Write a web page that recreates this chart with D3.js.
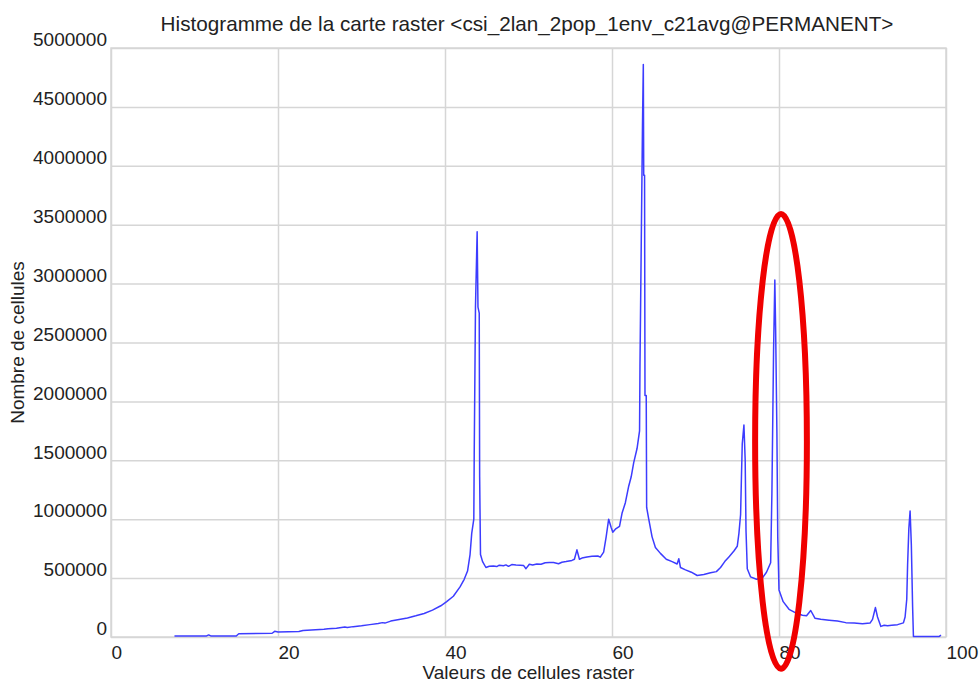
<!DOCTYPE html>
<html>
<head>
<meta charset="utf-8">
<script src="https://cdn.jsdelivr.net/npm/d3@7"></script>
<style>
  body { margin: 0; background: #fff; }
  svg { display: block; font-family: "Liberation Sans", Arial, sans-serif; }
  .grid line { stroke: #d6d6d6; stroke-width: 1.5; }
  .grid path { display: none; }
  .tick text { fill: #222; font-size: 19px; }
</style>
</head>
<body>
<div id="chart"></div>
<script>
// raster cell values (x) and number of cells (y)
var cellValues = [
  7.6, 11.4, 11.7, 12.0, 15.0, 15.3, 19.3, 19.6, 20.0, 22.5, 23.0, 25.5, 26.0, 27.0, 28.0, 28.3,
  29.0, 30.0, 31.0, 32.0, 32.5, 32.8, 33.5, 34.5, 35.5, 36.5, 37.5, 38.5, 39.5, 40.2, 41.0, 41.8,
  42.3, 42.7, 43.0, 43.2, 43.45, 43.5, 43.65, 43.85, 43.95, 44.1, 44.15, 44.25, 44.5, 44.9, 45.3,
  45.8, 46.2, 46.5, 47.0, 47.3, 47.6, 48.0, 48.5, 49.0, 49.4, 49.7, 50.1, 50.5, 51.0, 51.5, 52.0,
  52.5, 53.0, 53.6, 54.0, 54.5, 55.2, 55.5, 55.8, 56.1, 56.4, 57.0, 57.6, 58.3, 58.6, 59.0, 59.3,
  59.6, 59.9, 60.1, 60.4, 60.9, 61.2, 61.6, 62.0, 62.3, 62.6, 63.0, 63.3, 63.35, 63.5, 63.65, 63.75,
  63.8, 63.9, 63.95, 64.1, 64.15, 64.4, 64.8, 65.2, 65.8, 66.5, 67.2, 67.8, 68.0, 68.2, 68.8, 69.5,
  70.2, 71.0, 71.8, 72.5, 73.0, 73.5, 74.0, 74.6, 75.0, 75.2, 75.4, 75.5, 75.6, 75.8, 75.95, 76.05,
  76.2, 76.6, 77.3, 78.0, 78.5, 79.0, 79.15, 79.35, 79.5, 79.6, 79.75, 79.85, 80.0, 80.5, 81.2, 82.0,
  82.8, 83.3, 83.8, 84.3, 85.0, 86.0, 87.0, 88.0, 89.0, 90.0, 90.9, 91.2, 91.55, 91.8, 92.2, 92.6,
  93.0, 93.5, 94.2, 94.9, 95.1, 95.3, 95.4, 95.55, 95.7, 95.85, 96.0, 96.1, 99.2, 99.4
];
var cellCounts = [
  8000, 8000, 18000, 8000, 9000, 28000, 32000, 48000, 42000, 46000, 55000, 65000, 70000, 75000, 84000, 80000,
  88000, 95000, 105000, 115000, 122000, 118000, 135000, 148000, 162000, 180000, 200000, 228000, 265000, 300000, 346000, 425000,
  490000, 560000, 700000, 880000, 1000000, 1550000, 2800000, 3440000, 2800000, 2750000, 1360000, 700000, 640000, 590000, 600000,
  602000, 598000, 610000, 605000, 612000, 600000, 615000, 612000, 610000, 608000, 580000, 618000, 612000, 620000, 618000, 630000,
  632000, 632000, 622000, 635000, 640000, 650000, 660000, 740000, 660000, 670000, 680000, 685000, 688000, 678000, 720000, 850000,
  1000000, 930000, 890000, 915000, 940000, 1050000, 1140000, 1280000, 1360000, 1480000, 1600000, 1750000, 2300000, 3320000, 4340000, 4860000,
  3920000, 3920000, 2050000, 2050000, 1100000, 1000000, 850000, 760000, 710000, 660000, 640000, 620000, 665000, 590000, 570000, 550000,
  522000, 530000, 545000, 555000, 590000, 640000, 680000, 730000, 770000, 880000, 1040000, 1350000, 1640000, 1800000, 1500000, 900000,
  580000, 510000, 490000, 500000, 550000, 630000, 1220000, 2430000, 3030000, 2600000, 1730000, 850000, 400000, 300000, 235000, 205000,
  185000, 180000, 225000, 160000, 150000, 142000, 135000, 122000, 118000, 112000, 118000, 150000, 250000, 170000, 90000, 100000,
  95000, 100000, 105000, 120000, 170000, 320000, 610000, 920000, 1070000, 780000, 260000, 5000, 5000, 15000
];

var xTicks = [0, 20, 40, 60, 80, 100];
var yTicks = [0, 500000, 1000000, 1500000, 2000000, 2500000, 3000000, 3500000, 4000000, 4500000, 5000000];

var titleText = "Histogramme de la carte raster <csi_2lan_2pop_1env_c21avg@PERMANENT>";
var xLabel = "Valeurs de cellules raster";
var yLabel = "Nombre de cellules";

// highlighted zone (red ellipse), in data units
var markCenter = [80.24, 1660000];
var markRadius = [3.1, 1930000];

var margin = {top: 48, right: 33, bottom: 47, left: 111},
    W = 979, H = 684,
    width = W - margin.left - margin.right,
    height = H - margin.top - margin.bottom;

var x = d3.scaleLinear().domain([0, 100]).range([0, width]);
var y = d3.scaleLinear().domain([0, 5000000]).range([height, 0]);

var svg = d3.select("#chart").append("svg")
    .attr("width", W)
    .attr("height", H);

var g = svg.append("g")
    .attr("transform", "translate(" + margin.left + "," + margin.top + ")");

// vertical grid + x labels
var xAxis = g.append("g")
    .attr("class", "grid")
    .attr("transform", "translate(0," + height + ")")
    .call(d3.axisBottom(x).tickValues(xTicks).tickSize(-height).tickPadding(0).tickFormat(d3.format("d")));
xAxis.selectAll("text")
    .attr("text-anchor", "start")
    .attr("x", 0)
    .attr("y", 22)
    .attr("dy", 0);

// horizontal grid + y labels
var yAxis = g.append("g")
    .attr("class", "grid")
    .call(d3.axisLeft(y).tickValues(yTicks).tickSize(-width).tickPadding(0).tickFormat(d3.format("d")));
yAxis.selectAll("text")
    .attr("x", -4)
    .attr("dy", "-0.12em");

// frame
g.append("rect")
    .attr("width", width)
    .attr("height", height)
    .attr("fill", "none")
    .attr("stroke", "#d6d6d6")
    .attr("stroke-width", 1.5);

var points = cellValues.map(function(v, i) { return [v, cellCounts[i]]; });

var line = d3.line()
    .x(function(d) { return x(d[0]); })
    .y(function(d) { return y(d[1]); });

g.append("path")
    .datum(points)
    .attr("fill", "none")
    .attr("stroke", "#3c3cff")
    .attr("stroke-width", 1.5)
    .attr("stroke-linejoin", "round")
    .attr("d", line);

// red annotation
g.append("ellipse")
    .attr("cx", x(markCenter[0]))
    .attr("cy", y(markCenter[1]))
    .attr("rx", x(markRadius[0]) - x(0))
    .attr("ry", y(0) - y(markRadius[1]))
    .attr("fill", "none")
    .attr("stroke", "#f00000")
    .attr("stroke-width", 6);

// titles
svg.append("text")
    .attr("x", 527)
    .attr("y", 31)
    .attr("text-anchor", "middle")
    .style("font-size", "20.7px")
    .style("fill", "#222")
    .text(titleText);

svg.append("text")
    .attr("x", margin.left + width / 2)
    .attr("y", 679)
    .attr("text-anchor", "middle")
    .style("font-size", "19px")
    .style("fill", "#222")
    .text(xLabel);

svg.append("text")
    .attr("transform", "translate(24," + (margin.top + height / 2) + ") rotate(-90)")
    .attr("text-anchor", "middle")
    .style("font-size", "19px")
    .style("fill", "#222")
    .text(yLabel);
</script>
</body>
</html>
